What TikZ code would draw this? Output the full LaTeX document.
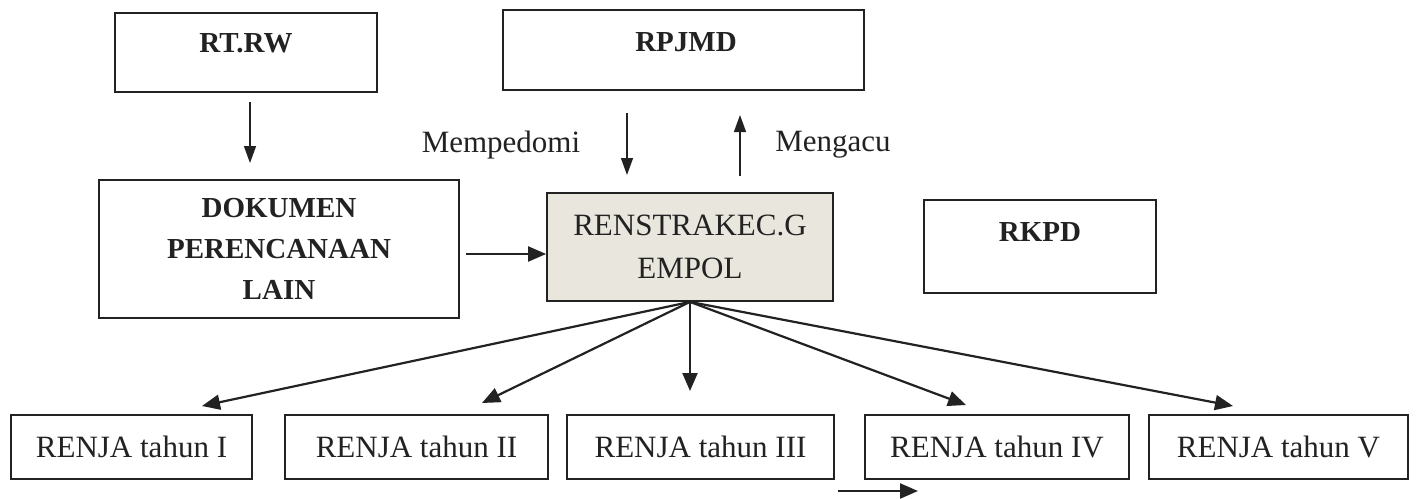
\documentclass[tikz,border=0pt]{standalone}
\usepackage{fontspec}
\setmainfont{Liberation Serif}
\usetikzlibrary{arrows.meta}
\definecolor{ink}{RGB}{34,34,34}
\definecolor{shade}{RGB}{233,231,221}
\begin{document}
\begin{tikzpicture}[x=1pt,y=-1pt,
  every node/.style={font=\fontsize{31}{41}\selectfont, text=ink},
  boldtxt/.style={font=\fontsize{29}{41}\selectfont\bfseries},
  box/.style={draw=ink, line width=1.8pt, inner sep=0pt, align=center},
  lbl/.style={inner sep=0pt},
  conn/.style={draw=ink, line width=1.4pt, -{Triangle[length=17pt,width=12pt]}},
  fan/.style={draw=ink, line width=2.2pt, -{Triangle[length=18pt,width=15pt]}}]
\fill[white] (0,0) rectangle (1416,498);
\useasboundingbox (0,0) rectangle (1416,498);
% top boxes
\node[box, minimum width=262pt, minimum height=79pt] (rtrw) at (246,52.5) {};
\node[lbl, boldtxt] (rtrwt) at (246,43) {RT.RW};
\node[box, minimum width=361pt, minimum height=80pt] (rpjmd) at (683.5,50) {};
\node[lbl, boldtxt] (rpjmdt) at (686,42) {RPJMD};
% middle row
\node[box, boldtxt, minimum width=360pt, minimum height=138pt] (dok) at (279,249) {DOKUMEN\\PERENCANAAN\\LAIN};
\node[box, fill=shade, minimum width=286pt, minimum height=108pt, font=\fontsize{31}{43}\selectfont] (ren) at (690,247) {RENSTRAKEC.G\\EMPOL};
\node[box, minimum width=232pt, minimum height=93pt] (rkpd) at (1040,246.5) {};
\node[lbl, boldtxt] (rkpdt) at (1040,232) {RKPD};
% bottom row
\node[box, minimum width=241pt, minimum height=64pt] (r1) at (131.5,447) {RENJA tahun I};
\node[box, minimum width=263pt, minimum height=64pt] (r2) at (416.5,447) {RENJA tahun II};
\node[box, minimum width=267pt, minimum height=64pt] (r3) at (700.5,447) {RENJA tahun III};
\node[box, minimum width=264pt, minimum height=64pt] (r4) at (997,447) {RENJA tahun IV};
\node[box, minimum width=259pt, minimum height=64pt] (r5) at (1278.5,447) {RENJA tahun V};
% labels
\node[lbl] (memp) at (501,145) {Mempedomi};
\node[lbl] (meng) at (833,145) {Mengacu};
% free-end coordinates
\coordinate (a1s) at (250,102);
\coordinate (a1e) at (250,163);
\coordinate (a2s) at (627,113);
\coordinate (a2e) at (627,175);
\coordinate (a3s) at (740,176);
\coordinate (a3e) at (740,115);
\coordinate (a4s) at (466,254);
\coordinate (t1) at (202,406);
\coordinate (t2) at (482,403);
\coordinate (t3) at (690,391);
\coordinate (t4) at (966,405);
\coordinate (t5) at (1233,406);
\coordinate (b1) at (838,491);
\coordinate (b2) at (918,491);
% connectors
\draw[conn] (a1s) -- (a1e);
\draw[conn] (a2s) -- (a2e);
\draw[conn] (a3s) -- (a3e);
\draw[fan] (a4s) -- (a4s -| ren.west);
\draw[fan] (ren.south) -- (t1);
\draw[fan] (ren.south) -- (t2);
\draw[fan] (ren.south) -- (t3);
\draw[fan] (ren.south) -- (t4);
\draw[fan] (ren.south) -- (t5);
\draw[fan] (b1) -- (b2);
\end{tikzpicture}
\end{document}
